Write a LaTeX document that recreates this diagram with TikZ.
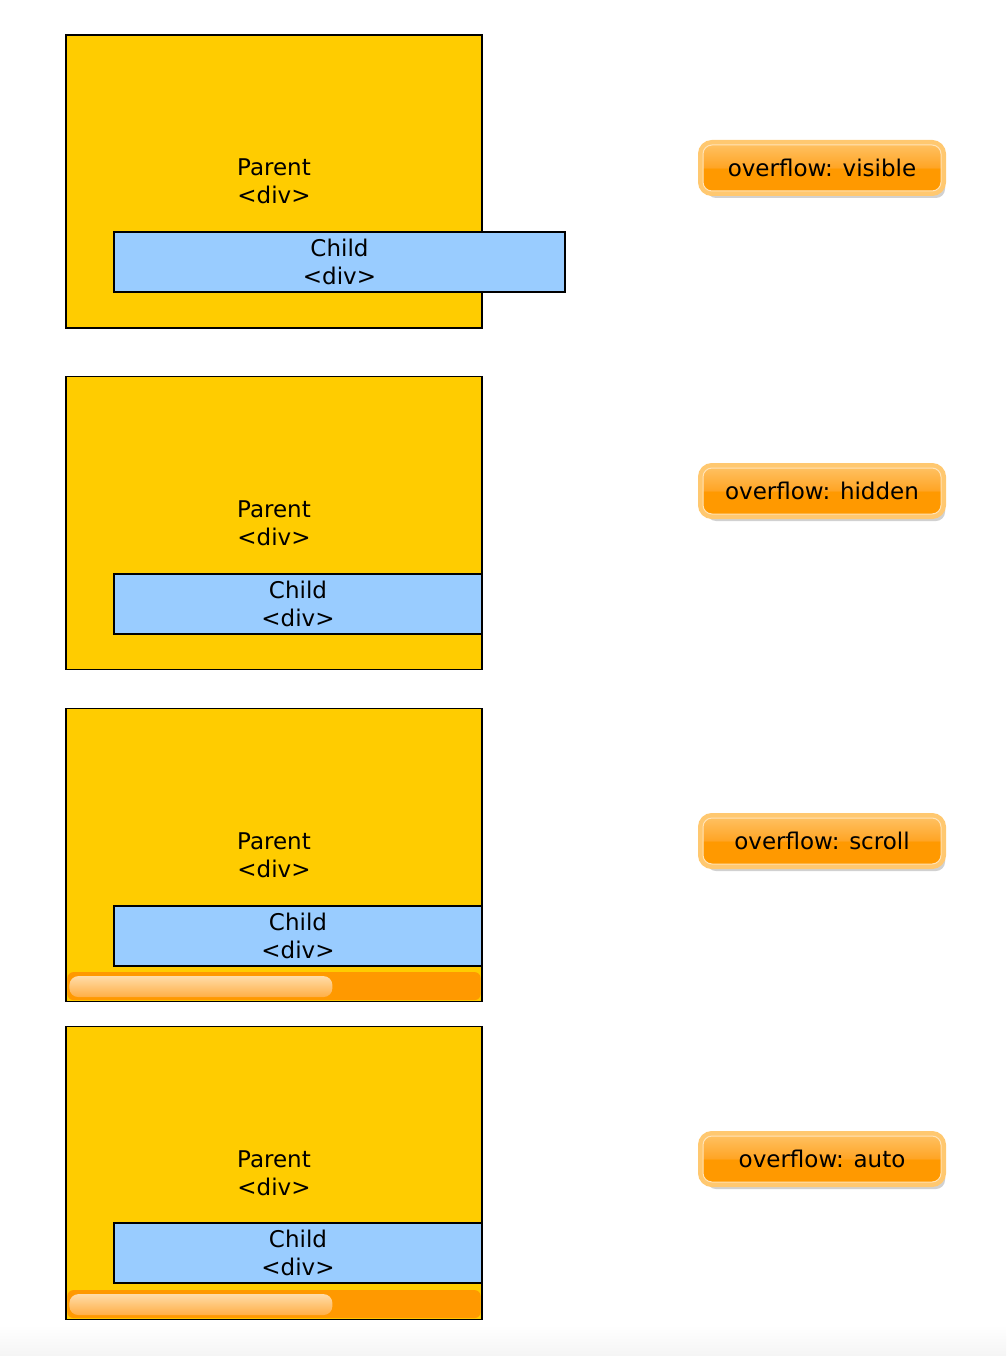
\documentclass[tikz,border=0pt]{standalone}
\usepackage{fontspec}
\setmainfont{DejaVu Sans}
\usetikzlibrary{shadows}

\definecolor{parentfill}{HTML}{FFCC00}
\definecolor{childfill}{HTML}{99CCFF}
\definecolor{barfill}{HTML}{FF9900}
\definecolor{btnedge}{HTML}{FFC870}
\definecolor{btntop}{HTML}{FFC060}
\definecolor{btnmid}{HTML}{FFA526}
\definecolor{glowtop}{HTML}{FFDCA8}
\definecolor{glowbot}{HTML}{FFAE45}
\pgfdeclareverticalshading{btnshade}{100bp}{color(0bp)=(barfill); color(25bp)=(barfill); color(49bp)=(barfill); color(51bp)=(btnmid); color(75bp)=(btntop); color(100bp)=(btntop)}

\tikzset{
  divbox/.style={draw, line width=1.2pt, align=center, font=\fontsize{23}{28}\selectfont},
  parent/.style={divbox, fill=parentfill, minimum width=416pt, minimum height=293pt},
  child/.style={divbox, fill=childfill, minimum height=60pt},
  button/.style={rounded corners=9pt, minimum width=238pt, minimum height=46pt,
    font=\fontsize{23}{28}\selectfont,
    drop shadow={shadow xshift=4pt, shadow yshift=-7pt, opacity=.18, fill=black},
    preaction={draw=btnedge, line width=10pt},
    shading=btnshade, draw=white!55!btntop, line width=1pt},
  bar/.style={fill=barfill, rounded corners=6pt},
  glow/.style={top color=glowtop, bottom color=glowbot, rounded corners=9pt},
}

\begin{document}
\begin{tikzpicture}[x=1pt,y=-1pt]
  \useasboundingbox (0,0) rectangle (1006,1356);
  \shade[top color=white, bottom color=black!4] (0,1325) rectangle (1006,1356);

  % overflow: visible
  \node[parent] (parent1) at (274,181.5) {Parent\\<div>};
  \node[child, minimum width=451pt] (child1) at (339.5,262) {Child\\<div>};
  \node[button] (btn1) at (822,168) {overflow: visible};

  % overflow: hidden
  \node[parent] (parent2) at (274,523) {Parent\\<div>};
  \node[child, minimum width=368pt] (child2) at (298,604) {Child\\<div>};
  \node[button] (btn2) at (822,491) {overflow: hidden};

  % overflow: scroll
  \node[parent] (parent3) at (274,855) {Parent\\<div>};
  \node[child, minimum width=368pt] (child3) at (298,936) {Child\\<div>};
  \fill[bar] ([shift={(2pt,2pt)}]parent3.south west) rectangle ([shift={(-2pt,30pt)}]parent3.south east);
  \path[glow] ([shift={(4pt,5pt)}]parent3.south west) rectangle ([shift={(267pt,26pt)}]parent3.south west);
  \node[button] (btn3) at (822,841) {overflow: scroll};

  % overflow: auto
  \node[parent] (parent4) at (274,1173) {Parent\\<div>};
  \node[child, minimum width=368pt] (child4) at (298,1253) {Child\\<div>};
  \fill[bar] ([shift={(2pt,2pt)}]parent4.south west) rectangle ([shift={(-2pt,30pt)}]parent4.south east);
  \path[glow] ([shift={(4pt,5pt)}]parent4.south west) rectangle ([shift={(267pt,26pt)}]parent4.south west);
  \node[button] (btn4) at (822,1159) {overflow: auto};
\end{tikzpicture}
\end{document}
